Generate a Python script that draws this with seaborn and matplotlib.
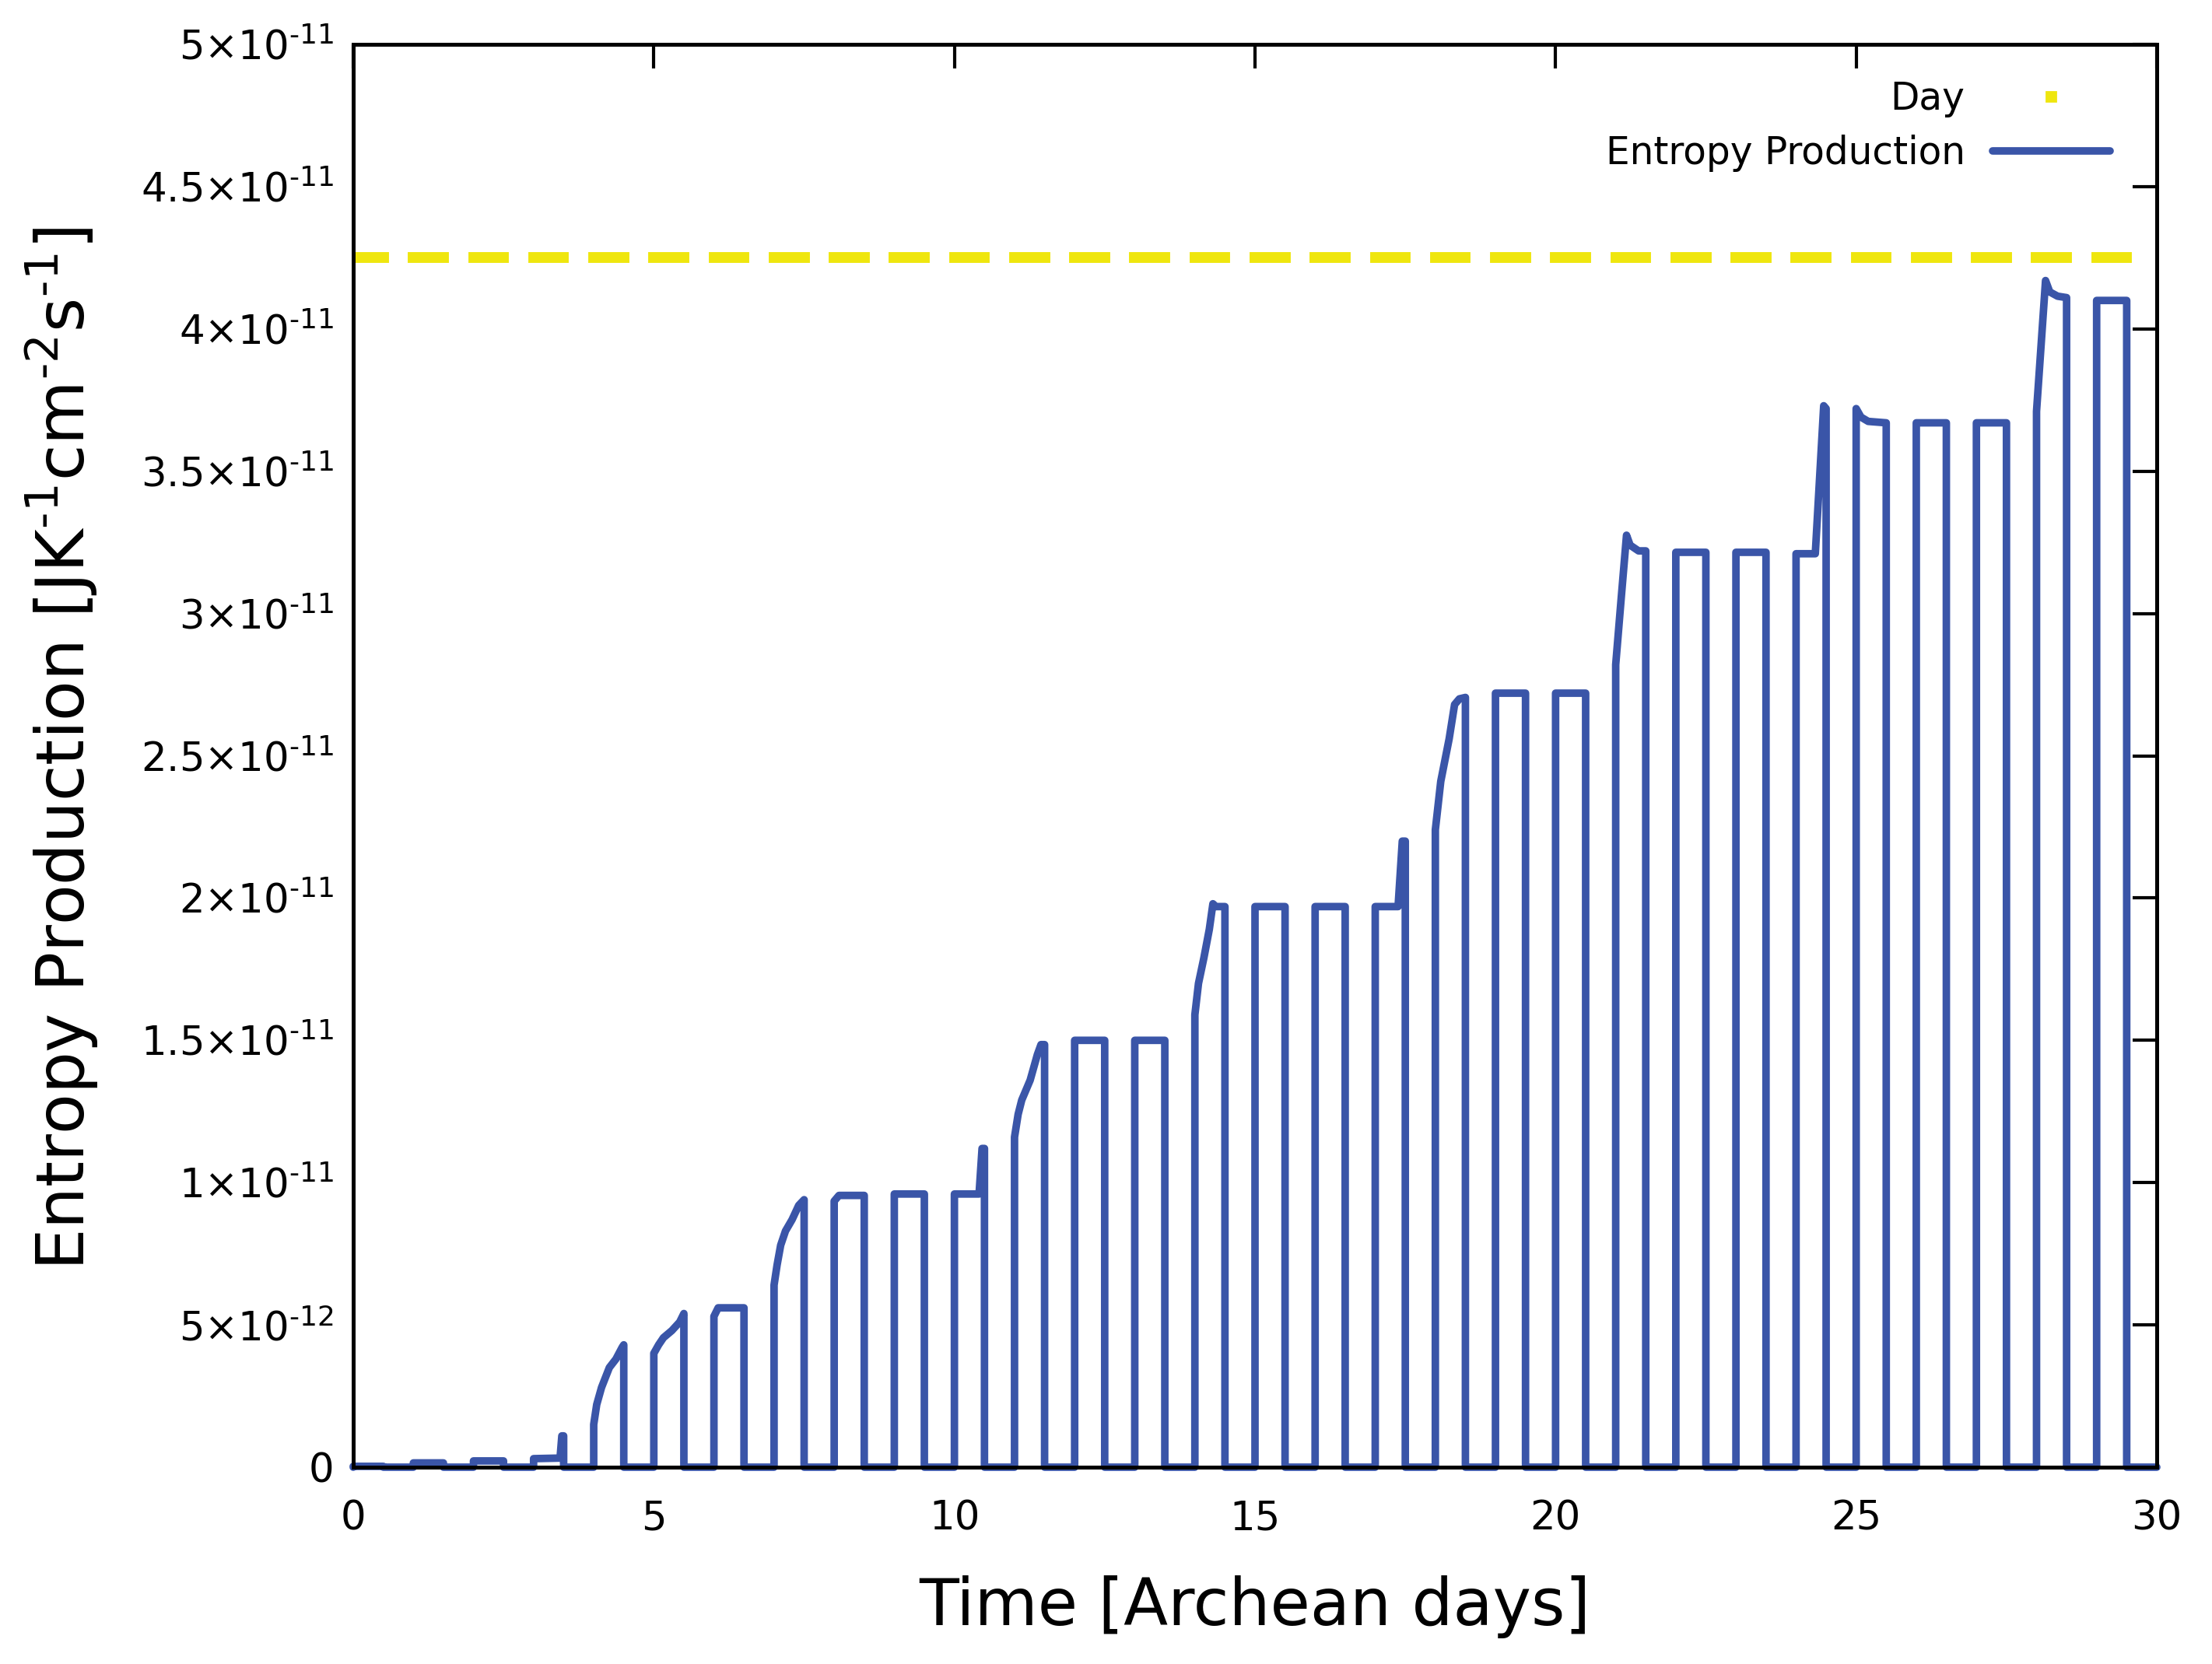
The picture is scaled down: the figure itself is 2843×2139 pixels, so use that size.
import pandas as pd
import seaborn as sns
import matplotlib.pyplot as plt
from matplotlib.lines import Line2D

# ---- data ---------------------------------------------------------------
# entropy production in units of 1e-12 J K^-1 cm^-2 s^-1
# each day: points inside the daylight half (offset from start of day [days], value)
days = [0, 1, 2, 3, 4, 5, 6, 7, 8, 9, 10, 11, 12, 13, 14,
        15, 16, 17, 18, 19, 20, 21, 22, 23, 24, 25, 26, 27, 28, 29]
day_offsets = [
    [0, 0.5],
    [0, 0.5],
    [0, 0.5],
    [0, 0.44, 0.47, 0.5],
    [0, 0.05, 0.13, 0.26, 0.37, 0.47, 0.5],
    [0, 0.08, 0.16, 0.3, 0.43, 0.5],
    [0, 0.07, 0.5],
    [0, 0.05, 0.11, 0.19, 0.3, 0.41, 0.5],
    [0, 0.08, 0.5],
    [0, 0.5],
    [0, 0.41, 0.46, 0.5],
    [0, 0.06, 0.12, 0.26, 0.38, 0.44, 0.5],
    [0, 0.5],
    [0, 0.5],
    [0, 0.06, 0.15, 0.24, 0.3, 0.35, 0.5],
    [0, 0.5],
    [0, 0.5],
    [0, 0.38, 0.45, 0.5],
    [0, 0.09, 0.23, 0.32, 0.4, 0.5],
    [0, 0.5],
    [0, 0.5],
    [0, 0.09, 0.18, 0.24, 0.38, 0.5],
    [0, 0.5],
    [0, 0.5],
    [0, 0.32, 0.46, 0.5],
    [0, 0.08, 0.2, 0.5],
    [0, 0.5],
    [0, 0.5],
    [0, 0.15, 0.22, 0.35, 0.5],
    [0, 0.5],
]
day_values = [
    [0.03, 0.03],
    [0.15, 0.15],
    [0.22, 0.22],
    [0.3, 0.32, 1.1, 1.1],
    [1.5, 2.2, 2.8, 3.5, 3.8, 4.2, 4.3],
    [4.0, 4.3, 4.55, 4.8, 5.1, 5.4],
    [5.3, 5.6, 5.6],
    [6.4, 7.1, 7.8, 8.3, 8.7, 9.2, 9.4],
    [9.35, 9.55, 9.55],
    [9.6, 9.6],
    [9.6, 9.6, 11.2, 11.2],
    [11.6, 12.4, 12.9, 13.6, 14.5, 14.85, 14.85],
    [15.0, 15.0],
    [15.0, 15.0],
    [15.9, 17.0, 17.9, 18.9, 19.8, 19.7, 19.7],
    [19.7, 19.7],
    [19.7, 19.7],
    [19.7, 19.7, 22.0, 22.0],
    [22.4, 24.1, 25.6, 26.8, 27.0, 27.05],
    [27.2, 27.2],
    [27.2, 27.2],
    [28.2, 30.5, 32.75, 32.4, 32.2, 32.2],
    [32.15, 32.15],
    [32.15, 32.15],
    [32.1, 32.1, 37.3, 37.2],
    [37.2, 36.9, 36.75, 36.7],
    [36.7, 36.7],
    [36.7, 36.7],
    [37.1, 41.7, 41.3, 41.15, 41.1],
    [41.0, 41.0],
]
t_end = 30
# "Day" marks: daylight windows drawn at a fixed level
day_start = days
day_length = 0.5
day_level = 4.25e-11

ytick_values = [0, 5e-12, 1e-11, 1.5e-11, 2e-11, 2.5e-11, 3e-11, 3.5e-11, 4e-11, 4.5e-11, 5e-11]
ytick_labels = ["0", r"$5{\times}10^{‐12}$", r"$1{\times}10^{‐11}$", r"$1.5{\times}10^{‐11}$",
                r"$2{\times}10^{‐11}$", r"$2.5{\times}10^{‐11}$", r"$3{\times}10^{‐11}$",
                r"$3.5{\times}10^{‐11}$", r"$4{\times}10^{‐11}$", r"$4.5{\times}10^{‐11}$",
                r"$5{\times}10^{‐11}$"]
xtick_values = [0, 5, 10, 15, 20, 25, 30]

# ---- assemble series -----------------------------------------------------
t, v = [], []
for d, offs, vals in zip(days, day_offsets, day_values):
    t += [d] + [d + o for o in offs] + [d + offs[-1]]
    v += [0] + [x * 1e-12 for x in vals] + [0]
t.append(t_end)
v.append(0)
ep = pd.DataFrame({"t": t, "ep": v})

dt, dy, du = [], [], []
for d in day_start:
    dt += [d, d + day_length]
    dy += [day_level, day_level]
    du += [d, d]
daylight = pd.DataFrame({"t": dt, "y": dy, "day": du})

# ---- plot ----------------------------------------------------------------
sns.set_theme(style="white")
plt.rcParams["font.family"] = ["DejaVu Sans"]
plt.rcParams["mathtext.default"] = "regular"
plt.rcParams["axes.edgecolor"] = "black"
plt.rcParams["text.color"] = "black"
plt.rcParams["axes.labelcolor"] = "black"

blue = "#3a55a8"
yellow = "#efe60e"

fig = plt.figure(figsize=(14.215, 10.695), dpi=200)
ax = fig.add_axes([454 / 2843, 253 / 2139, 2318 / 2843, 1829 / 2139])

sns.lineplot(data=daylight, x="t", y="y", units="day", estimator=None,
             color=yellow, lw=5, solid_capstyle="projecting", ax=ax)
sns.lineplot(data=ep, x="t", y="ep", sort=False, estimator=None,
             color=blue, lw=3.5, clip_on=False, ax=ax)

ax.set_xlim(0, 30)
ax.set_ylim(0, 5e-11)
ax.set_xticks(xtick_values)
ax.set_xticklabels([str(x) for x in xtick_values])
ax.set_yticks(ytick_values)
ax.set_yticklabels(ytick_labels)
ax.tick_params(which="both", direction="in", top=True, right=True,
               length=11, width=1.5, colors="black", labelsize=18.5)
ax.tick_params(axis="x", pad=15)
ax.tick_params(axis="y", pad=9)
for s in ax.spines.values():
    s.set_linewidth(1.8)
    s.set_color("black")

ax.set_xlabel("Time [Archean days]", fontsize=30)
ax.set_ylabel(r"Entropy Production [JK$^{‐1}$cm$^{‐2}$s$^{‐1}$]", fontsize=30.5)
ax.xaxis.set_label_coords(0.5, -0.076)
ax.yaxis.set_label_coords(-0.14, 0.505)

handles = [
    Line2D([], [], ls="none", marker="s", ms=4.3, color=yellow, label="Day"),
    Line2D([], [], color=blue, lw=3.5, label="Entropy Production"),
]
ax.legend(handles=handles, loc="upper right", bbox_to_anchor=(0.974, 0.975),
          frameon=False, markerfirst=False, fontsize=17.5, handlelength=3.1,
          handletextpad=0.73, labelspacing=0.45, borderpad=0, borderaxespad=0)

fig.savefig("out.png", dpi=200)
